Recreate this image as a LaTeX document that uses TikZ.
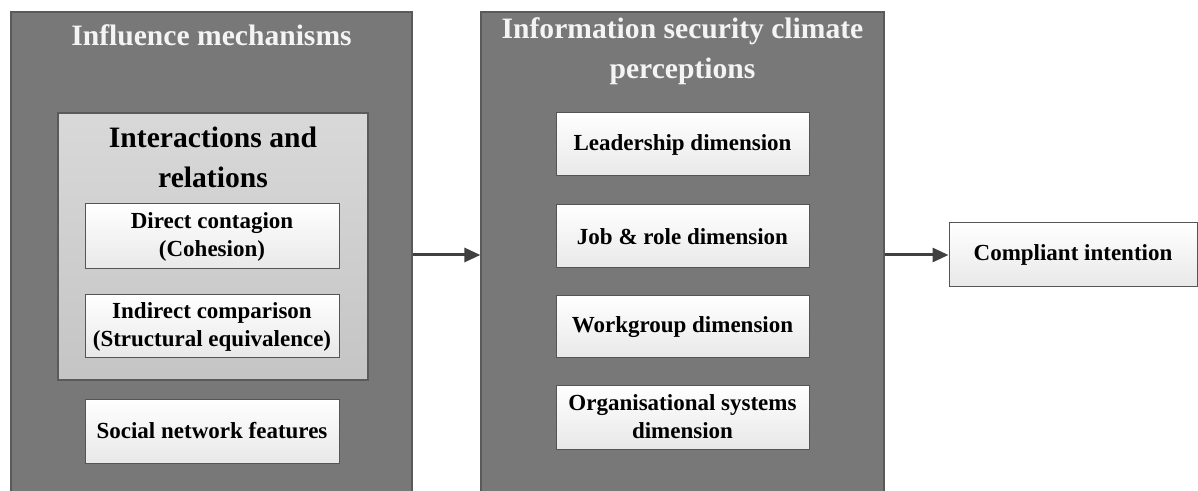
\documentclass[tikz,border=0pt]{standalone}
\usepackage{fontspec}
\setmainfont{Liberation Serif}
\usetikzlibrary{arrows.meta}
\definecolor{darkfill}{HTML}{787878}
\definecolor{darkedge}{HTML}{5A5A5A}
\definecolor{lightfill}{HTML}{CFCFCF}
\definecolor{boxedge}{HTML}{555555}
\definecolor{arrowcol}{HTML}{404040}
\definecolor{titlecol}{HTML}{F4F4F4}
\tikzset{
  container/.style={draw=darkedge, line width=0.6pt, fill=darkfill, inner sep=0pt},
  groupbox/.style={draw=darkedge, line width=0.6pt, top color=lightfill!80!white, bottom color=lightfill!95!black, inner sep=0pt},
  itembox/.style={draw=boxedge, line width=0.5pt, top color=white, bottom color=black!9, inner sep=0pt, align=center,
     font=\bfseries\fontsize{11.5}{14}\selectfont, text=black},
  titletext/.style={align=center, font=\bfseries\fontsize{14.8}{20}\selectfont, text=titlecol, inner sep=0pt},
  grouptext/.style={align=center, font=\bfseries\fontsize{14.8}{20}\selectfont, text=black, inner sep=0pt},
  flow/.style={draw=arrowcol, line width=1.5pt, -{Triangle[length=8pt,width=7pt]}}
}
\begin{document}
\begin{tikzpicture}[x=0.5pt,y=-0.5pt]
\useasboundingbox (0,0) rectangle (1198,491);
% containers
\node[container, minimum width=200.5pt, minimum height=240.5pt] (left) at (211.5,252.5) {};
\node[container, minimum width=201.5pt, minimum height=240.5pt] (mid) at (682.5,252.5) {};
\node[titletext] (lefttitle) at (211.5,35) {Influence mechanisms};
\node[titletext] (midtitle) at (682.5,51) {Information security climate\\perceptions};
% inner group
\node[groupbox, minimum width=155pt, minimum height=133.5pt] (group) at (213,246.5) {};
\node[grouptext] (grouptitle) at (213,157) {Interactions and\\relations};
\node[itembox, minimum width=127pt, minimum height=32.5pt] (direct) at (212,236.5) {Direct contagion\\(Cohesion)};
\node[itembox, minimum width=127pt, minimum height=31.5pt] (indirect) at (212,326.5) {Indirect comparison\\(Structural equivalence)};
\node[itembox, minimum width=127pt, minimum height=32pt] (social) at (212,431) {Social network features};
% middle items
\node[itembox, minimum width=126.5pt, minimum height=31.5pt] (lead) at (682.5,144.5) {Leadership dimension};
\node[itembox, minimum width=126.5pt, minimum height=31.5pt] (job) at (682.5,236.5) {Job \& role dimension};
\node[itembox, minimum width=126.5pt, minimum height=31pt] (work) at (682.5,327) {Workgroup dimension};
\node[itembox, minimum width=126.5pt, minimum height=32pt] (org) at (682.5,417) {Organisational systems\\dimension};
% outcome
\node[itembox, minimum width=124pt, minimum height=32pt] (comp) at (1073,255) {Compliant intention};
% arrows
\draw[flow] (left.east |- comp.west) -- (mid.west |- comp.west);
\draw[flow] (mid.east |- comp.west) -- (comp.west);
\end{tikzpicture}
\end{document}
